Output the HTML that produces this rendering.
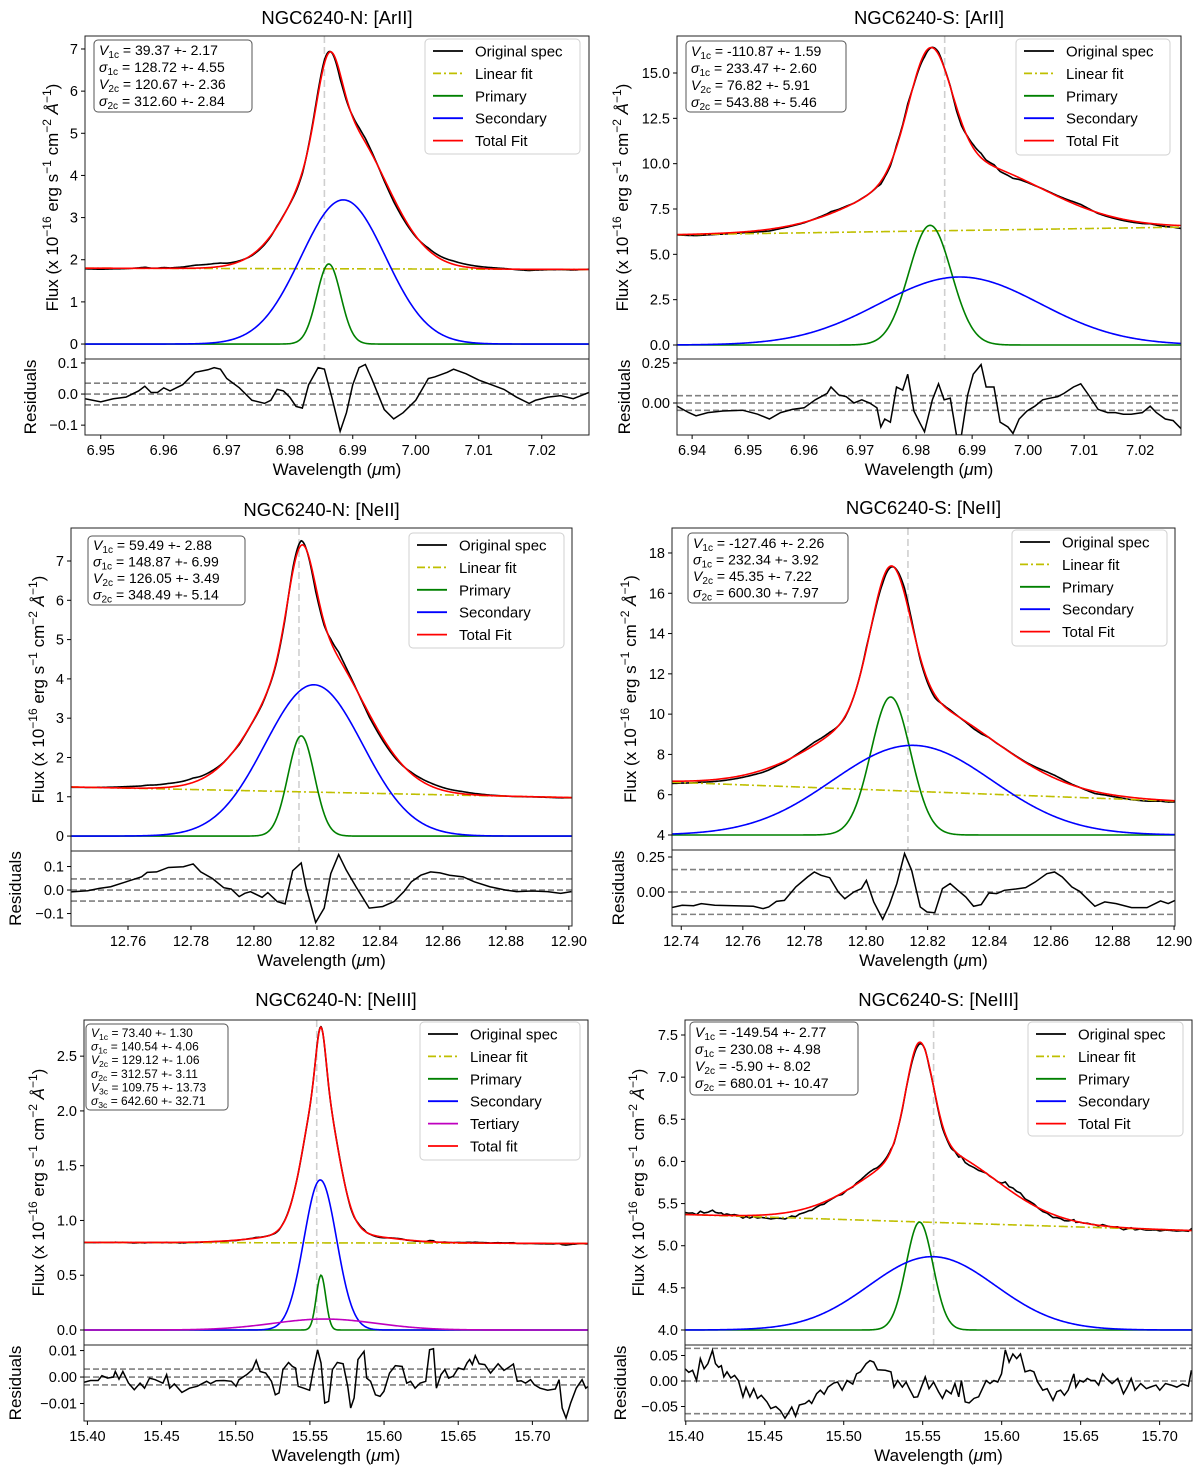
<!DOCTYPE html>
<html><head><meta charset="utf-8"><title>NGC6240 line fits</title>
<style>
html,body{margin:0;padding:0;background:#fff;}
svg{display:block;font-family:"Liberation Sans","DejaVu Sans",sans-serif;}
</style></head>
<body>
<svg id="fig" width="1200" height="1476" viewBox="0 0 1200 1476" xmlns="http://www.w3.org/2000/svg"></svg>
<script>
// ---------- Panel 1: NGC6240-N [ArII] ----------
const p1ResWave = [6.9475,6.950,6.952,6.954,6.956,6.957,6.958,6.959,6.960,6.961,6.963,6.965,6.967,6.968,6.969,6.970,6.972,6.974,6.976,6.977,6.978,6.979,6.980,6.981,6.982,6.983,6.9845,6.9855,6.9868,6.988,6.989,6.990,6.991,6.992,6.993,6.995,6.9965,6.998,7.000,7.002,7.003,7.005,7.006,7.008,7.010,7.012,7.014,7.016,7.018,7.019,7.021,7.023,7.025,7.0275];
const p1ResVal = [-0.015,-0.025,-0.015,-0.01,0.01,0.025,0.005,0.005,0.02,0.01,0.03,0.07,0.078,0.085,0.08,0.05,0.02,-0.02,-0.03,-0.02,0.015,0.01,-0.01,-0.04,-0.045,0.03,0.085,0.08,-0.02,-0.12,-0.06,0.03,0.085,0.095,0.05,-0.05,-0.08,-0.06,-0.02,0.05,0.055,0.07,0.08,0.065,0.045,0.03,0.015,-0.01,-0.03,-0.02,-0.01,-0.005,-0.015,0.005];
const p1Linear = [1.80, 1.77];
const p1Primary = [1.9, 6.9862, 0.0019];
const p1Secondary = [3.42, 6.9885, 0.0067];
const p1XTicks = [6.95,6.96,6.97,6.98,6.99,7.00,7.01,7.02];
const p1YTicks = [0,1,2,3,4,5,6,7];
const p1RTicks = [-0.1,0.0,0.1];

// ---------- Panel 2: NGC6240-S [ArII] ----------
const p2ResWave = [6.9373,6.9394,6.9407,6.9428,6.9455,6.9490,6.9517,6.9538,6.9558,6.9579,6.9600,6.9620,6.9641,6.9648,6.9662,6.9675,6.9689,6.9703,6.9717,6.9730,6.9737,6.9744,6.9754,6.9765,6.9776,6.9785,6.9796,6.9806,6.9815,6.9829,6.9840,6.9850,6.9861,6.9872,6.9881,6.9892,6.9902,6.9916,6.9925,6.9939,6.9950,6.9964,6.9973,6.9984,6.9998,7.0012,7.0026,7.0039,7.0053,7.0064,7.0081,7.0094,7.0108,7.0125,7.0142,7.0156,7.0170,7.0184,7.0204,7.0218,7.0229,7.0245,7.0259,7.0273];
const p2ResVal = [-0.02,-0.06,-0.08,-0.06,-0.05,-0.045,-0.07,-0.1,-0.06,-0.04,-0.03,0.02,0.06,0.1,0.05,0.04,0.0,0.02,0.0,-0.03,-0.15,-0.1,-0.12,0.1,0.08,0.18,-0.05,-0.12,-0.18,0.02,0.12,0.02,0.03,-0.2,-0.2,0.05,0.18,0.24,0.1,0.1,-0.12,-0.15,-0.19,-0.1,-0.05,-0.02,0.02,0.03,0.04,0.06,0.1,0.12,0.05,-0.04,-0.06,-0.06,-0.07,-0.07,-0.06,-0.02,-0.06,-0.1,-0.11,-0.16];
const p2Linear = [6.08, 6.5];
const p2Primary = [6.6, 6.9825, 0.0038];
const p2Secondary = [3.75, 6.9878, 0.0144];
const p2XTicks = [6.94,6.95,6.96,6.97,6.98,6.99,7.00,7.01,7.02];
const p2YTicks = [0,2.5,5,7.5,10,12.5,15];
const p2RTicks = [0.0,0.25];

// ---------- Panel 3: NGC6240-N [NeII] ----------
const p3ResWave = [12.7418,12.7472,12.7509,12.7545,12.7594,12.7643,12.7661,12.7691,12.7728,12.7776,12.7807,12.7831,12.7868,12.7904,12.7928,12.7953,12.7971,12.7989,12.8026,12.8044,12.8074,12.8099,12.8123,12.8150,12.8165,12.8196,12.8223,12.8244,12.8269,12.8293,12.8324,12.8366,12.8409,12.8445,12.8476,12.8500,12.8530,12.8561,12.8591,12.8621,12.8664,12.8700,12.8749,12.8798,12.8834,12.8883,12.8932,12.8974,12.9008];
const p3ResVal = [-0.008,-0.003,0.007,0.014,0.035,0.056,0.075,0.077,0.096,0.099,0.111,0.077,0.049,0.010,0.004,-0.028,-0.014,-0.007,-0.031,-0.011,-0.049,-0.059,0.082,0.115,0.014,-0.138,-0.077,0.070,0.151,0.085,0.014,-0.077,-0.070,-0.049,-0.007,0.035,0.063,0.077,0.073,0.063,0.056,0.035,0.014,0.000,-0.007,-0.004,-0.007,-0.014,-0.007];
const p3Linear = [1.25, 0.98];
const p3Primary = [2.55, 12.815, 0.0042];
const p3Secondary = [3.85, 12.819, 0.0155];
const p3XTicks = [12.76,12.78,12.80,12.82,12.84,12.86,12.88,12.90];
const p3YTicks = [0,1,2,3,4,5,6,7];
const p3RTicks = [-0.1,0.0,0.1];

// ---------- Panel 4: NGC6240-S [NeII] ----------
const p4ResWave = [12.7367,12.7403,12.7440,12.7465,12.7509,12.7572,12.7634,12.7666,12.7684,12.7709,12.7735,12.7772,12.7810,12.7832,12.7854,12.7882,12.7910,12.7931,12.7960,12.7985,12.8001,12.8025,12.8054,12.8075,12.8100,12.8125,12.8148,12.8176,12.8198,12.8223,12.8248,12.8273,12.8298,12.8324,12.8349,12.8374,12.8399,12.8424,12.8449,12.8486,12.8518,12.8549,12.8587,12.8612,12.8637,12.8668,12.8693,12.8743,12.8775,12.8812,12.8862,12.8912,12.8956,12.8981,12.9003];
const p4ResVal = [-0.112,-0.095,-0.098,-0.083,-0.095,-0.098,-0.102,-0.119,-0.107,-0.067,-0.060,0.036,0.107,0.143,0.119,0.102,0.000,-0.048,0.000,0.024,0.083,-0.071,-0.195,-0.095,0.060,0.274,0.155,-0.107,-0.143,-0.148,0.024,0.060,0.012,-0.036,-0.102,-0.090,-0.007,-0.012,0.012,0.021,0.031,0.071,0.131,0.143,0.107,0.036,0.005,-0.102,-0.071,-0.083,-0.112,-0.112,-0.064,-0.083,-0.060];
const p4Linear = [6.62, 5.68];
const p4Primary = [6.85, 12.808, 0.0064];
const p4Secondary = [4.45, 12.815, 0.026];
const p4XTicks = [12.74,12.76,12.78,12.80,12.82,12.84,12.86,12.88,12.90];
const p4YTicks = [4,6,8,10,12,14,16,18];
const p4RTicks = [0.0,0.25];

// ---------- Panel 5: NGC6240-N [NeIII] ----------
const p5ResWave = [15.3977,15.4021,15.4072,15.4098,15.4136,15.4175,15.4188,15.4213,15.4239,15.4277,15.4316,15.4355,15.4385,15.4419,15.4457,15.4509,15.4534,15.4555,15.4586,15.4637,15.4688,15.4740,15.4804,15.4830,15.4868,15.4920,15.4971,15.5002,15.5022,15.5074,15.5112,15.5138,15.5164,15.5202,15.5241,15.5267,15.5292,15.5318,15.5356,15.5382,15.5403,15.5421,15.5459,15.5498,15.5523,15.5552,15.5575,15.5600,15.5626,15.5652,15.5685,15.5724,15.5755,15.5775,15.5798,15.5824,15.5865,15.5883,15.5909,15.5942,15.5973,15.5999,15.6037,15.6076,15.6122,15.6153,15.6179,15.6209,15.6243,15.6281,15.6307,15.6333,15.6353,15.6384,15.6410,15.6435,15.6466,15.6500,15.6538,15.6559,15.6577,15.6595,15.6615,15.6641,15.6679,15.6718,15.6769,15.6808,15.6834,15.6872,15.6898,15.6924,15.6954,15.6988,15.7013,15.7052,15.7103,15.7155,15.7180,15.7201,15.7227,15.7258,15.7296,15.7335,15.7360,15.7376];
const p5ResVal = [-0.0020,-0.0013,-0.0013,0.0005,-0.0004,0.0000,0.0021,-0.0008,0.0021,-0.0023,-0.0048,-0.0023,-0.0042,-0.0004,-0.0010,-0.0023,0.0009,-0.0042,-0.0026,-0.0058,-0.0042,-0.0035,-0.0016,-0.0025,-0.0014,-0.0013,-0.0016,-0.0035,-0.0010,0.0009,0.0028,0.0063,0.0021,0.0015,-0.0016,-0.0067,-0.0060,0.0028,0.0055,0.0040,0.0034,-0.0035,-0.0042,-0.0050,0.0028,0.0103,0.0053,-0.0098,-0.0092,0.0028,0.0055,0.0050,-0.0035,-0.0117,-0.0079,0.0066,0.0097,-0.0004,-0.0016,-0.0067,-0.0073,-0.0054,0.0015,0.0043,0.0040,-0.0023,-0.0016,-0.0042,-0.0023,-0.0016,0.0103,0.0107,-0.0042,0.0009,0.0028,-0.0004,0.0003,0.0034,0.0028,0.0053,0.0066,0.0047,0.0081,0.0050,0.0047,0.0015,0.0050,0.0025,0.0034,0.0049,-0.0016,-0.0014,-0.0023,-0.0010,-0.0029,-0.0042,-0.0050,-0.0045,-0.0010,-0.0117,-0.0155,-0.0098,-0.0042,-0.0010,-0.0042,-0.0035];
const p5Linear = [0.80, 0.79];
const p5Primary = [0.5, 15.5575, 0.0032];
const p5Secondary = [1.37, 15.557, 0.011];
const p5Tertiary = [0.1, 15.560, 0.035];
const p5XTicks = [15.40,15.45,15.50,15.55,15.60,15.65,15.70];
const p5YTicks = [0,0.5,1.0,1.5,2.0,2.5];
const p5RTicks = [-0.01,0.0,0.01];

// ---------- Panel 6: NGC6240-S [NeIII] ----------
const p6ResWave = [15.3995,15.4019,15.4043,15.4068,15.4092,15.4116,15.4140,15.4169,15.4188,15.4208,15.4225,15.4241,15.4261,15.4285,15.4309,15.4333,15.4362,15.4381,15.4406,15.4430,15.4454,15.4478,15.4514,15.4538,15.4570,15.4599,15.4628,15.4647,15.4671,15.4695,15.4719,15.4756,15.4780,15.4797,15.4828,15.4852,15.4876,15.4900,15.4937,15.4961,15.4990,15.5021,15.5057,15.5081,15.5106,15.5142,15.5166,15.5190,15.5214,15.5263,15.5299,15.5318,15.5342,15.5371,15.5395,15.5415,15.5444,15.5468,15.5516,15.5540,15.5569,15.5600,15.5625,15.5649,15.5680,15.5704,15.5728,15.5745,15.5769,15.5794,15.5825,15.5854,15.5878,15.5902,15.5926,15.5951,15.5975,15.5999,15.6023,15.6047,15.6071,15.6095,15.6119,15.6148,15.6180,15.6204,15.6228,15.6260,15.6288,15.6325,15.6349,15.6373,15.6397,15.6421,15.6457,15.6470,15.6494,15.6518,15.6542,15.6566,15.6590,15.6614,15.6639,15.6663,15.6699,15.6735,15.6771,15.6795,15.6820,15.6844,15.6880,15.6916,15.6940,15.6977,15.7001,15.7037,15.7073,15.7109,15.7145,15.7182,15.7201];
const p6ResVal = [0.024,0.017,0.021,0.001,0.044,0.024,0.034,0.060,0.034,0.027,0.030,0.008,0.018,0.006,0.011,0.001,-0.031,-0.012,-0.031,-0.015,-0.034,-0.028,-0.041,-0.054,-0.050,-0.058,-0.073,-0.064,-0.051,-0.069,-0.047,-0.044,-0.038,-0.044,-0.025,-0.018,-0.026,-0.012,-0.004,-0.002,-0.018,0.001,-0.006,0.014,0.018,0.034,0.040,0.037,0.022,0.021,0.018,-0.012,0.001,-0.012,-0.002,-0.015,-0.032,-0.031,0.008,-0.015,-0.002,-0.021,-0.034,-0.018,-0.025,-0.005,-0.031,0.001,-0.041,-0.043,-0.034,-0.031,-0.015,0.001,-0.005,0.001,-0.002,0.014,0.061,0.037,0.053,0.044,0.053,0.018,0.021,0.018,-0.002,-0.018,-0.015,-0.038,-0.021,-0.018,-0.028,-0.018,0.014,-0.012,0.001,-0.002,0.005,0.001,0.001,-0.008,0.014,0.005,-0.005,0.005,-0.025,-0.012,0.005,-0.018,-0.005,-0.015,-0.012,-0.008,-0.018,-0.005,-0.008,-0.012,-0.006,-0.010,0.021];
const p6Linear = [5.37, 5.18];
const p6Primary = [1.28, 15.548, 0.0085];
const p6Secondary = [0.87, 15.556, 0.040];
const p6XTicks = [15.40,15.45,15.50,15.55,15.60,15.65,15.70];
const p6YTicks = [4.0,4.5,5.0,5.5,6.0,6.5,7.0,7.5];
const p6RTicks = [-0.05,0.0,0.05];

const NS = 'http://www.w3.org/2000/svg';
const fig = document.getElementById('fig');
function el(tag, parent) { const e = document.createElementNS(NS, tag); parent.appendChild(e); return e; }
function gauss(p, w) { return p[0] * Math.exp(-0.5 * Math.pow((w - p[1]) / p[2], 2)); }
function interp(xs, ys, x) {
  if (x <= xs[0]) return ys[0];
  for (let i = 1; i < xs.length; i++) { if (x <= xs[i]) { const f = (x - xs[i - 1]) / (xs[i] - xs[i - 1]); return ys[i - 1] + f * (ys[i] - ys[i - 1]); } }
  return ys[ys.length - 1];
}

function drawPanel(P) {
  const g = el('g', fig);
  
  
  const sx = x => P.left + (x - P.xr[0]) / (P.xr[1] - P.xr[0]) * (P.right - P.left);
  const sy = y => P.split - (y - P.yr[0]) / (P.yr[1] - P.yr[0]) * (P.split - P.top);
  const ry = v => P.bottom - (v - P.ry[0]) / (P.ry[1] - P.ry[0]) * (P.bottom - P.split);
  const lin = w => P.linear[0] + (P.linear[1] - P.linear[0]) * (w - P.xr[0]) / (P.xr[1] - P.xr[0]);
  const model = w => { let v = lin(w) + gauss(P.primary, w) + gauss(P.secondary, w); if (P.tertiary) v += gauss(P.tertiary, w); return v; };

  const defs = el('defs', g);
  const cp = el('clipPath', defs); cp.setAttribute('id', P.id + '-clip');
  const cr = el('rect', cp); cr.setAttribute('x', P.left); cr.setAttribute('y', P.top); cr.setAttribute('width', P.right - P.left); cr.setAttribute('height', P.split - P.top);
  const cp2 = el('clipPath', defs); cp2.setAttribute('id', P.id + '-rclip');
  const cr2 = el('rect', cp2); cr2.setAttribute('x', P.left); cr2.setAttribute('y', P.split); cr2.setAttribute('width', P.right - P.left); cr2.setAttribute('height', P.bottom - P.split);

  const t = el('text', g);
  
  
  t.setAttribute('x', (P.left + P.right) / 2); t.setAttribute('y', P.titleY);
  t.setAttribute('text-anchor', 'middle'); t.setAttribute('font-size', '18.5');
  t.textContent = P.title;

  const mainG = el('g', g); mainG.setAttribute('clip-path', 'url(#' + P.id + '-clip)');
  
  

  const vl = el('line', mainG);
  
  
  vl.setAttribute('x1', sx(P.vline)); vl.setAttribute('x2', sx(P.vline)); vl.setAttribute('y1', P.top); vl.setAttribute('y2', P.split);
  vl.setAttribute('stroke', '#cfcfcf'); vl.setAttribute('stroke-width', '1.6'); vl.setAttribute('stroke-dasharray', '7,4');

  const N = 500; const grid = [];
  for (let i = 0; i <= N; i++) grid.push(P.xr[0] + (P.xr[1] - P.xr[0]) * i / N);
  // spectrum grid: fine grid merged with residual sample points
  const sgrid = grid.concat(P.resWave).sort((a, b) => a - b);
  function pathFrom(ws, f) { return ws.map((w, i) => (i ? 'L' : 'M') + sx(w).toFixed(2) + ',' + sy(f(w, i)).toFixed(2)).join(''); }
  function curve(d, color, name, dash) {
    const p = el('path', mainG);
    
    
    p.setAttribute('d', d); p.setAttribute('fill', 'none'); p.setAttribute('stroke', color); p.setAttribute('stroke-width', '1.6');
    if (dash) p.setAttribute('stroke-dasharray', dash);
    return p;
  }
  curve(pathFrom(sgrid, w => model(w) + interp(P.resWave, P.resVal, w)), '#000', 'original-spectrum');
  curve(pathFrom(grid, w => lin(w)), '#bfbf00', 'linear-fit', '9,3,2,3');
  curve(pathFrom(grid, w => P.base + gauss(P.primary, w)), '#008000', 'primary-component');
  curve(pathFrom(grid, w => P.base + gauss(P.secondary, w)), '#0000ff', 'secondary-component');
  if (P.tertiary) curve(pathFrom(grid, w => P.base + gauss(P.tertiary, w)), '#bf00bf', 'tertiary-component');
  curve(pathFrom(grid, w => model(w)), '#ff0000', 'total-fit');

  const resG = el('g', g); resG.setAttribute('clip-path', 'url(#' + P.id + '-rclip)');
  
  
  [P.dash, 0, -P.dash].forEach(v => {
    const l = el('line', resG);
    
    
    l.setAttribute('x1', P.left); l.setAttribute('x2', P.right); l.setAttribute('y1', ry(v)); l.setAttribute('y2', ry(v));
    l.setAttribute('stroke', '#808080'); l.setAttribute('stroke-width', '1.6'); l.setAttribute('stroke-dasharray', '6,3');
  });
  const rp = el('path', resG);
  
  
  rp.setAttribute('d', P.resWave.map((w, i) => (i ? 'L' : 'M') + sx(w).toFixed(2) + ',' + ry(P.resVal[i]).toFixed(2)).join(''));
  rp.setAttribute('fill', 'none'); rp.setAttribute('stroke', '#000'); rp.setAttribute('stroke-width', '1.5');

  [[P.top, P.split], [P.split, P.bottom]].forEach(r => {
    const f = el('rect', g);
    
    
    f.setAttribute('x', P.left); f.setAttribute('y', r[0]); f.setAttribute('width', P.right - P.left); f.setAttribute('height', r[1] - r[0]);
    f.setAttribute('fill', 'none'); f.setAttribute('stroke', '#222'); f.setAttribute('stroke-width', '1');
  });

  function tick(x1, y1, x2, y2) { const l = el('line', g); l.setAttribute('x1', x1); l.setAttribute('y1', y1); l.setAttribute('x2', x2); l.setAttribute('y2', y2); l.setAttribute('stroke', '#000'); l.setAttribute('stroke-width', '1'); return l; }
  function label(x, y, txt, anchor, name) {
    const tx = el('text', g);
    
    
    tx.setAttribute('x', x); tx.setAttribute('y', y); tx.setAttribute('text-anchor', anchor); tx.setAttribute('font-size', '14.5');
    tx.textContent = txt; return tx;
  }
  P.xTicks.forEach(v => { const x = sx(v); tick(x, P.bottom, x, P.bottom + 4); label(x, P.bottom + 20, v.toFixed(2), 'middle', 'x-tick-label'); });
  P.yTicks.forEach(v => { const y = sy(v); tick(P.left - 4, y, P.left, y); label(P.left - 7, y + 5, v.toFixed(P.yDec).replace('-', '\u2212'), 'end', 'y-tick-label'); });
  P.rTicks.forEach(v => { const y = ry(v); tick(P.left - 4, y, P.left, y); label(P.left - 7, y + 5, (Math.abs(v) < 1e-9 ? 0 : v).toFixed(P.rDec).replace('-', '\u2212'), 'end', 'residual-tick-label'); });

  const xl = el('text', g);
  
  
  xl.setAttribute('x', (P.left + P.right) / 2); xl.setAttribute('y', P.bottom + 40); xl.setAttribute('text-anchor', 'middle'); xl.setAttribute('font-size', '17');
  xl.innerHTML = 'Wavelength (<tspan font-style="italic">\u03bc</tspan>m)';
  const yc = (P.top + P.split) / 2;
  const yl = el('text', g);
  
  
  yl.setAttribute('transform', 'translate(' + P.yLabelX + ',' + yc + ') rotate(-90)');
  yl.setAttribute('text-anchor', 'middle'); yl.setAttribute('font-size', '17');
  yl.innerHTML = 'Flux (x 10<tspan font-size="12" dy="-7">\u221216</tspan><tspan dy="7"> erg s</tspan><tspan font-size="12" dy="-7">\u22121</tspan><tspan dy="7"> cm</tspan><tspan font-size="12" dy="-7">\u22122</tspan><tspan dy="7" font-style="italic"> \u00c5</tspan><tspan font-size="12" dy="-7">\u22121</tspan><tspan dy="7">)</tspan>';
  const rl = el('text', g);
  
  
  rl.setAttribute('transform', 'translate(' + P.rLabelX + ',' + ((P.split + P.bottom) / 2) + ') rotate(-90)');
  rl.setAttribute('text-anchor', 'middle'); rl.setAttribute('font-size', '17');
  rl.textContent = 'Residuals';

  const A = P.ann;
  const ab = el('rect', g);
  
  
  ab.setAttribute('x', A.x); ab.setAttribute('y', A.y); ab.setAttribute('width', A.w); ab.setAttribute('height', A.h);
  ab.setAttribute('rx', 4); ab.setAttribute('fill', '#fff'); ab.setAttribute('stroke', '#555'); ab.setAttribute('stroke-width', '1');
  P.annLines.forEach((ln, i) => {
    const tx = el('text', g);
    
    
    tx.setAttribute('x', A.x + 5); tx.setAttribute('y', A.y + A.first + i * A.step); tx.setAttribute('font-size', A.fs);
    const sym = ln[0] === 'V' ? '<tspan font-style="italic">V</tspan>' : '<tspan font-style="italic">\u03c3</tspan>';
    tx.innerHTML = sym + '<tspan font-size="' + (A.fs * 0.72) + '" dy="3">' + ln[1] + '</tspan><tspan dy="-3"> = ' + ln[2] + '</tspan>';
  });

  const L = P.leg;
  const lb = el('rect', g);
  
  
  lb.setAttribute('x', L.x); lb.setAttribute('y', L.y); lb.setAttribute('width', L.w); lb.setAttribute('height', L.h);
  lb.setAttribute('rx', 4); lb.setAttribute('fill', '#fff'); lb.setAttribute('fill-opacity', '0.85'); lb.setAttribute('stroke', '#d0d0d0'); lb.setAttribute('stroke-width', '1');
  P.legItems.forEach((it, i) => {
    const y = L.y + 12 + i * 22.4;
    const ll = el('line', g);
    
    
    ll.setAttribute('x1', L.x + 8); ll.setAttribute('x2', L.x + 38); ll.setAttribute('y1', y); ll.setAttribute('y2', y);
    ll.setAttribute('stroke', it[1]); ll.setAttribute('stroke-width', '1.8');
    if (it[2]) ll.setAttribute('stroke-dasharray', '8,3,2,3');
    const lt = el('text', g);
    
    
    lt.setAttribute('x', L.x + 50); lt.setAttribute('y', y + 5.5); lt.setAttribute('font-size', '15');
    lt.textContent = it[0];
  });
}

const legStd = [['Original spec', '#000'], ['Linear fit', '#bfbf00', true], ['Primary', '#008000'], ['Secondary', '#0000ff'], ['Total Fit', '#ff0000']];
const legTer = [['Original spec', '#000'], ['Linear fit', '#bfbf00', true], ['Primary', '#008000'], ['Secondary', '#0000ff'], ['Tertiary', '#bf00bf'], ['Total fit', '#ff0000']];

drawPanel({ id: 'panel-n-arii', title: 'NGC6240-N: [ArII]', titleY: 24, left: 85, right: 589, top: 36, split: 359, bottom: 435,
  xr: [6.9475, 7.0275], yr: [-0.355, 7.308], ry: [-0.1317, 0.1127], dash: 0.035, vline: 6.9855, base: 0,
  linear: p1Linear, primary: p1Primary, secondary: p1Secondary, resWave: p1ResWave, resVal: p1ResVal,
  xTicks: p1XTicks, yTicks: p1YTicks, rTicks: p1RTicks, yDec: 0, rDec: 1, yLabelX: 58, rLabelX: 36,
  ann: { x: 94, y: 40, w: 158, h: 72, first: 15, step: 17, fs: 14 },
  annLines: [['V', '1c', '39.37 +- 2.17'], ['s', '1c', '128.72 +- 4.55'], ['V', '2c', '120.67 +- 2.36'], ['s', '2c', '312.60 +- 2.84']],
  leg: { x: 425, y: 39, w: 155, h: 115 }, legItems: legStd });

drawPanel({ id: 'panel-s-arii', title: 'NGC6240-S: [ArII]', titleY: 24, left: 677, right: 1181, top: 36, split: 359, bottom: 435,
  xr: [6.9373, 7.0273], yr: [-0.772, 17.04], ry: [-0.2, 0.275], dash: 0.046, vline: 6.9851, base: 0,
  linear: p2Linear, primary: p2Primary, secondary: p2Secondary, resWave: p2ResWave, resVal: p2ResVal,
  xTicks: p2XTicks, yTicks: p2YTicks, rTicks: p2RTicks, yDec: 1, rDec: 2, yLabelX: 628, rLabelX: 630,
  ann: { x: 686, y: 41, w: 160, h: 71, first: 15, step: 17, fs: 14 },
  annLines: [['V', '1c', '-110.87 +- 1.59'], ['s', '1c', '233.47 +- 2.60'], ['V', '2c', '76.82 +- 5.91'], ['s', '2c', '543.88 +- 5.46']],
  leg: { x: 1016, y: 39, w: 154, h: 116 }, legItems: legStd });

drawPanel({ id: 'panel-n-neii', title: 'NGC6240-N: [NeII]', titleY: 516, left: 71, right: 572, top: 528, split: 851, bottom: 926,
  xr: [12.7419, 12.901], yr: [-0.38, 7.84], ry: [-0.153, 0.166], dash: 0.047, vline: 12.8143, base: 0,
  linear: p3Linear, primary: p3Primary, secondary: p3Secondary, resWave: p3ResWave, resVal: p3ResVal,
  xTicks: p3XTicks, yTicks: p3YTicks, rTicks: p3RTicks, yDec: 0, rDec: 1, yLabelX: 44, rLabelX: 21,
  ann: { x: 88, y: 536, w: 157, h: 69, first: 14, step: 16.5, fs: 14 },
  annLines: [['V', '1c', '59.49 +- 2.88'], ['s', '1c', '148.87 +- 6.99'], ['V', '2c', '126.05 +- 3.49'], ['s', '2c', '348.49 +- 5.14']],
  leg: { x: 409, y: 533, w: 155, h: 115 }, legItems: legStd });

drawPanel({ id: 'panel-s-neii', title: 'NGC6240-S: [NeII]', titleY: 514, left: 672, right: 1175, top: 528, split: 850, bottom: 926,
  xr: [12.737, 12.9003], yr: [3.255, 19.24], ry: [-0.243, 0.30], dash: 0.16, vline: 12.8136, base: 4,
  linear: p4Linear, primary: p4Primary, secondary: p4Secondary, resWave: p4ResWave, resVal: p4ResVal,
  xTicks: p4XTicks, yTicks: p4YTicks, rTicks: p4RTicks, yDec: 0, rDec: 2, yLabelX: 636, rLabelX: 624,
  ann: { x: 688, y: 533, w: 160, h: 70, first: 15, step: 16.5, fs: 14 },
  annLines: [['V', '1c', '-127.46 +- 2.26'], ['s', '1c', '232.34 +- 3.92'], ['V', '2c', '45.35 +- 7.22'], ['s', '2c', '600.30 +- 7.97']],
  leg: { x: 1012, y: 530, w: 155, h: 116 }, legItems: legStd });

drawPanel({ id: 'panel-n-neiii', title: 'NGC6240-N: [NeIII]', titleY: 1006, left: 84, right: 588, top: 1020, split: 1345, bottom: 1421,
  xr: [15.3977, 15.7375], yr: [-0.137, 2.83], ry: [-0.0166, 0.0121], dash: 0.003, vline: 15.5546, base: 0,
  linear: p5Linear, primary: p5Primary, secondary: p5Secondary, tertiary: p5Tertiary, resWave: p5ResWave, resVal: p5ResVal,
  xTicks: p5XTicks, yTicks: p5YTicks, rTicks: p5RTicks, yDec: 1, rDec: 2, yLabelX: 44, rLabelX: 21,
  ann: { x: 86, y: 1024, w: 142, h: 86, first: 13, step: 13.6, fs: 12 },
  annLines: [['V', '1c', '73.40 +- 1.30'], ['s', '1c', '140.54 +- 4.06'], ['V', '2c', '129.12 +- 1.06'], ['s', '2c', '312.57 +- 3.11'], ['V', '3c', '109.75 +- 13.73'], ['s', '3c', '642.60 +- 32.71']],
  leg: { x: 420, y: 1022, w: 160, h: 138 }, legItems: legTer });

drawPanel({ id: 'panel-s-neiii', title: 'NGC6240-S: [NeIII]', titleY: 1006, left: 685, right: 1192, top: 1020, split: 1345, bottom: 1421,
  xr: [15.3995, 15.7205], yr: [3.822, 7.678], ry: [-0.0784, 0.0706], dash: 0.064, vline: 15.5569, base: 4,
  linear: p6Linear, primary: p6Primary, secondary: p6Secondary, resWave: p6ResWave, resVal: p6ResVal,
  xTicks: p6XTicks, yTicks: p6YTicks, rTicks: p6RTicks, yDec: 1, rDec: 2, yLabelX: 644, rLabelX: 626,
  ann: { x: 690, y: 1022, w: 168, h: 73, first: 15, step: 17, fs: 14 },
  annLines: [['V', '1c', '-149.54 +- 2.77'], ['s', '1c', '230.08 +- 4.98'], ['V', '2c', '-5.90 +- 8.02'], ['s', '2c', '680.01 +- 10.47']],
  leg: { x: 1028, y: 1022, w: 155, h: 114 }, legItems: legStd });
</script>
</body></html>
